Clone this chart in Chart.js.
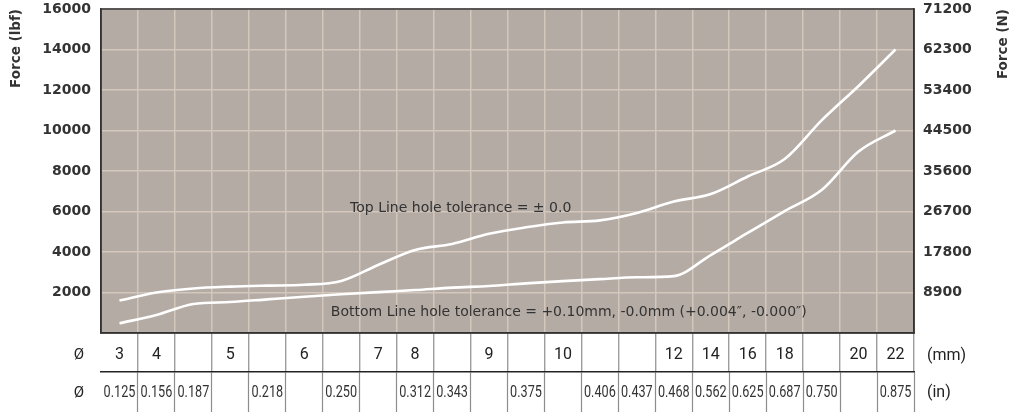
<!DOCTYPE html>
<html><head><meta charset="utf-8">
<script src="https://cdn.jsdelivr.net/npm/chart.js@4"></script>
<style>html,body{margin:0;padding:0;background:#fff;}canvas{display:block;}</style>
</head><body>
<canvas id="c" width="1018" height="412"></canvas>
<script>
// ---- data ----
const mmLabels = ['3','4','','5','','6','','7','8','','9','','10','','','12','14','16','18','','20','22'];
const inLabels = ['0.125','0.156','0.187','','0.218','','0.250','','0.312','0.343','','0.375','','0.406','0.437','0.468','0.562','0.625','0.687','0.750','','0.875'];
const topLine = [1600,2000,2200,2290,2340,2380,2570,3360,4100,4400,4900,5220,5460,5560,5930,6490,6860,7730,8590,10500,12200,14000];
const bottomLine = [480,890,1430,1530,1660,1790,1910,2020,2120,2240,2320,2450,2560,2660,2750,2810,3850,4940,6020,7060,8960,10000];
const lbfTicks = [2000,4000,6000,8000,10000,12000,14000,16000];
const newtonTicks = [8900,17800,26700,35600,44500,53400,62300,71200];
const topNote = 'Top Line hole tolerance = ± 0.0';
const bottomNote = 'Bottom Line hole tolerance = +0.10mm, -0.0mm (+0.004″, -0.000″)';

// ---- styles ----
const BG = '#b5aba5';
const GRID = '#d4c7bb';
const TXT = '#333';
const TABLE_LINE = '#8c8c8c';
const edgeTick = (n) => (ctx) => (ctx.index === 0 || ctx.index === n) ? 'rgba(0,0,0,0)' : TABLE_LINE;

const decor = {
  id: 'decor',
  beforeDraw(chart) {
    const {ctx, chartArea: a} = chart;
    ctx.save();
    ctx.fillStyle = BG;
    ctx.fillRect(a.left, a.top, a.right - a.left, a.bottom - a.top);
    ctx.restore();
  },
  afterDraw(chart) {
    const {ctx, chartArea: a, scales} = chart;
    const x = scales.x, x2 = scales.x2, y = scales.y, y2 = scales.y2;
    ctx.save();
    ctx.strokeStyle = TXT; ctx.lineWidth = 1.5;
    ctx.strokeRect(a.left, a.top, a.right - a.left, a.bottom - a.top);
    // notes
    ctx.fillStyle = TXT;
    ctx.font = '14px "DejaVu Sans"';
    ctx.textAlign = 'left'; ctx.textBaseline = 'alphabetic';
    ctx.fillText(topNote, x.getPixelForValue(6.24), y.getPixelForValue(6000));
    ctx.fillText(bottomNote, x.getPixelForValue(5.72), y.getPixelForValue(860));
    // inch row labels (narrow)
    const r1 = x.top + 22.5, r2 = x2.top + 21;
    ctx.fillStyle = TXT;
    ctx.font = '16px Roboto';
    ctx.textAlign = 'center'; ctx.textBaseline = 'middle';
    inLabels.forEach((lab, i) => {
      if (!lab) return;
      ctx.save();
      ctx.translate(x2.getPixelForValue(i), r2);
      ctx.scale(0.79, 1);
      ctx.fillText(lab, 0, 0);
      ctx.restore();
    });
    // table side labels
    ctx.fillStyle = '#222';
    ctx.font = '15px Roboto';
    ctx.fillText('Ø', x.left - 22, r1);
    ctx.fillText('Ø', x.left - 22, r2);
    ctx.textAlign = 'left';
    ctx.font = '16px Roboto';
    ctx.fillText('(mm)', x.right + 13, r1);
    ctx.fillText('(in)', x.right + 13, r2);
    // right axis title (reads bottom-to-top)
    ctx.fillStyle = TXT;
    ctx.font = 'bold 13.5px "DejaVu Sans"';
    ctx.translate(y2.right - 15, 9);
    ctx.rotate(-Math.PI / 2);
    ctx.textAlign = 'right'; ctx.textBaseline = 'middle';
    ctx.fillText('Force (N)', 0, 0);
    ctx.restore();
  }
};

new Chart(document.getElementById('c'), {
  type: 'line',
  data: {
    labels: mmLabels,
    datasets: [
      {data: topLine, borderColor: '#fff', borderWidth: 2.6, pointRadius: 0, cubicInterpolationMode: 'monotone', xAxisID: 'x', yAxisID: 'y'},
      {data: bottomLine, borderColor: '#fff', borderWidth: 2.6, pointRadius: 0, cubicInterpolationMode: 'monotone', xAxisID: 'x', yAxisID: 'y'}
    ]
  },
  options: {
    responsive: false,
    animation: false,
    layout: {padding: {top: 9}},
    plugins: {legend: {display: false}, tooltip: {enabled: false}},
    scales: {
      x: {
        type: 'category', position: 'bottom', offset: true, weight: 0,
        grid: {offset: true, color: GRID, lineWidth: 1.5, drawTicks: true, tickLength: 39, tickColor: edgeTick(mmLabels.length), tickWidth: 1.2},
        border: {display: true, color: TXT, width: 1.5},
        ticks: {autoSkip: false, maxRotation: 0, minRotation: 0, padding: -27, color: '#222', font: {family: 'Roboto', size: 16}},
        afterFit: s => { s.height = 39; s.paddingLeft = 0; s.paddingRight = 0; }
      },
      x2: {
        type: 'category', position: 'bottom', offset: true, weight: 1, labels: inLabels,
        grid: {offset: true, drawOnChartArea: false, drawTicks: true, tickLength: 40, tickColor: edgeTick(inLabels.length), tickWidth: 1.2},
        border: {display: true, color: '#222', width: 1.4},
        ticks: {display: false, autoSkip: false, maxRotation: 0, minRotation: 0},
        afterFit: s => { s.height = 40; s.paddingLeft = 0; s.paddingRight = 0; }
      },
      y: {
        position: 'left', min: 0, max: 16000,
        afterBuildTicks: s => { s.ticks = lbfTicks.map(v => ({value: v})); },
        grid: {color: GRID, lineWidth: 1.5, drawTicks: false},
        border: {display: true, color: TXT, width: 1.5},
        ticks: {padding: 10, color: TXT, font: {family: '"DejaVu Sans"', size: 14, weight: 'bold'}, callback: v => String(v)},
        title: {display: true, text: 'Force (lbf)', align: 'end', color: TXT, font: {family: '"DejaVu Sans"', size: 13.5, weight: 'bold'}, padding: {top: 8, bottom: 0}},
        afterFit: s => { s.width = 101; s.paddingTop = 0; s.paddingBottom = 0; }
      },
      y2: {
        position: 'right', min: 0, max: 71200,
        afterBuildTicks: s => { s.ticks = newtonTicks.map(v => ({value: v})); },
        grid: {drawOnChartArea: false, drawTicks: false},
        border: {display: true, color: TXT, width: 1.5},
        ticks: {padding: 9, color: TXT, font: {family: '"DejaVu Sans"', size: 14, weight: 'bold'}, callback: v => String(v)},
        afterFit: s => { s.width = 104; s.paddingTop = 0; s.paddingBottom = 0; }
      }
    }
  },
  plugins: [decor]
});
</script>
</body></html>
